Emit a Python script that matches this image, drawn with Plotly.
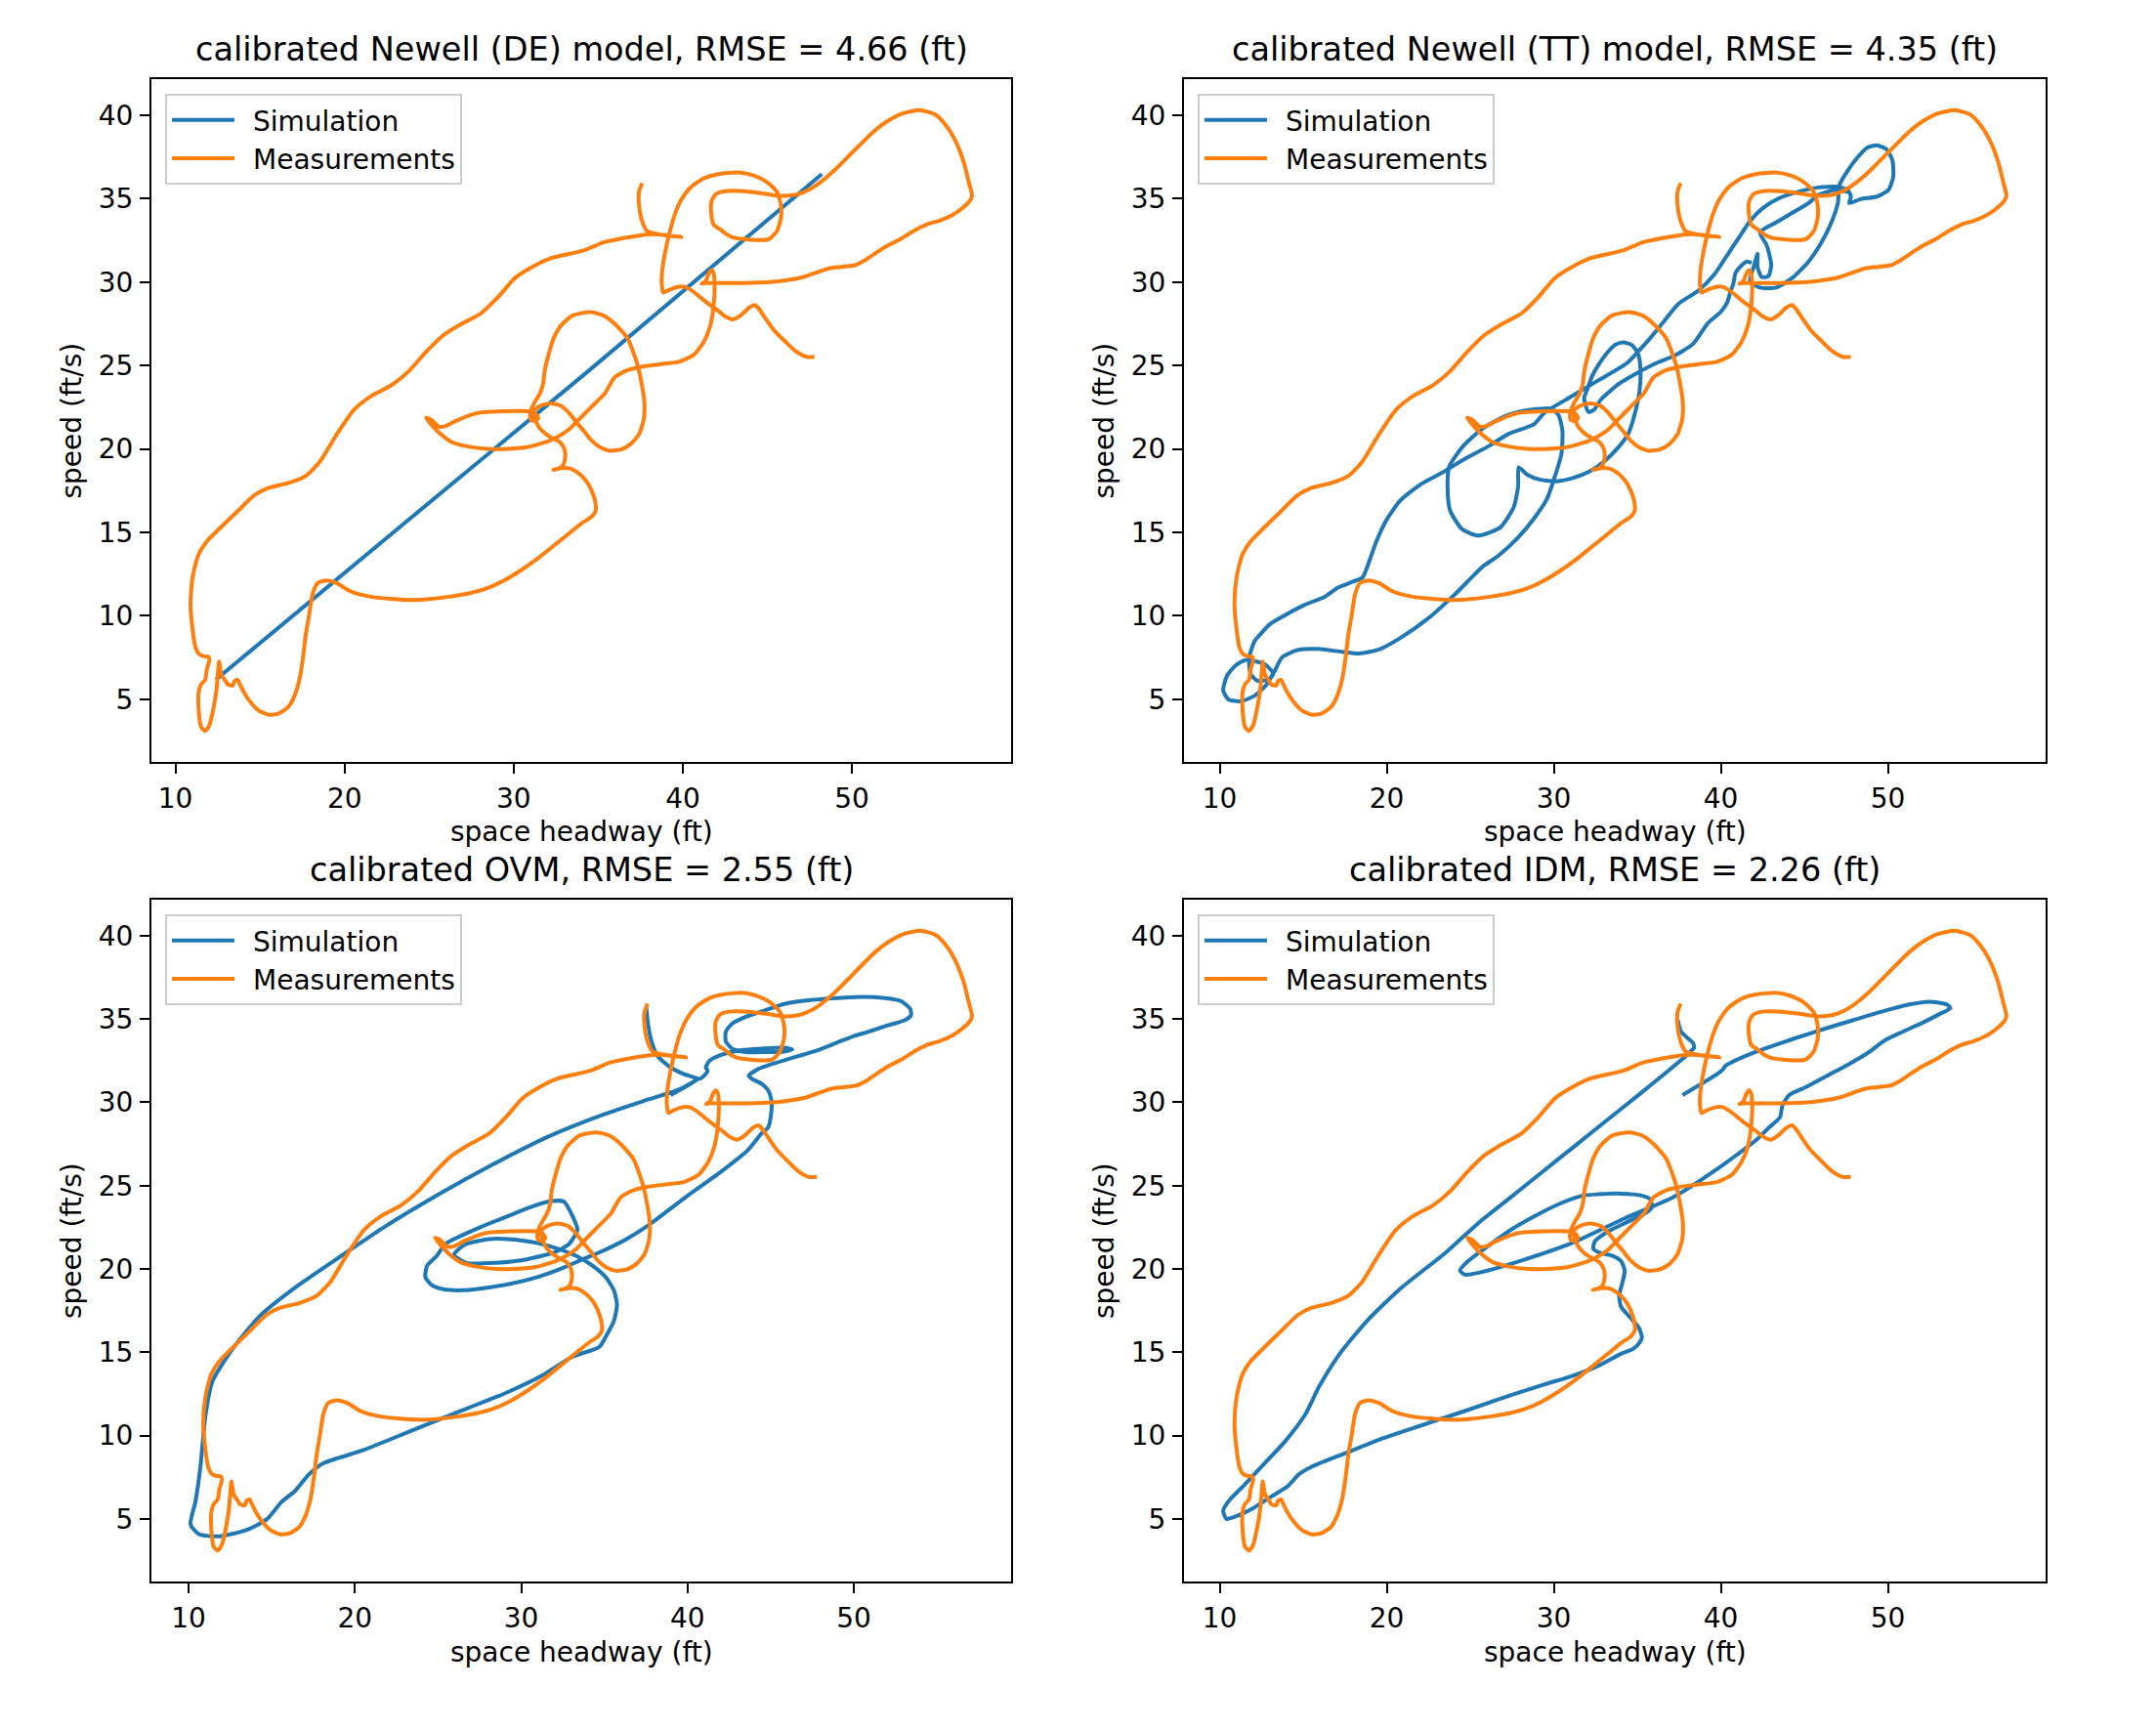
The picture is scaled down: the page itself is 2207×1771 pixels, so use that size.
import plotly.graph_objects as go

# measured trajectory (space headway ft, speed ft/s), same in every panel
meas_pts = [
    (47.78, 25.52), (47.30, 25.52), (46.63, 25.89), (45.96, 26.53), (45.38, 27.12), (44.90, 27.80),
    (44.51, 28.38), (44.26, 28.62), (43.94, 28.48), (43.46, 28.03), (42.98, 27.76), (42.50, 27.95),
    (42.02, 28.34), (41.54, 28.68), (41.06, 29.06), (40.58, 29.45), (40.10, 29.71), (39.71, 29.71),
    (39.14, 29.51), (38.85, 29.36), (38.75, 29.94), (38.81, 30.91), (38.94, 31.69), (39.10, 32.47),
    (39.27, 33.16), (39.52, 34.03), (39.90, 34.91), (40.48, 35.69), (41.25, 36.22), (42.11, 36.47),
    (43.27, 36.57), (44.23, 36.37), (44.99, 35.98), (45.57, 35.40), (45.80, 34.62), (45.80, 33.84),
    (45.57, 33.06), (45.09, 32.57), (44.42, 32.51), (43.65, 32.57), (42.98, 32.67), (42.59, 32.86),
    (42.21, 33.16), (41.82, 33.45), (41.69, 34.03), (41.69, 34.81), (41.92, 35.24), (42.50, 35.44),
    (43.65, 35.44), (44.80, 35.30), (45.76, 35.16), (46.72, 35.24), (47.49, 35.55), (48.26, 36.08),
    (49.03, 36.76), (49.80, 37.54), (50.57, 38.32), (51.33, 39.06), (52.10, 39.64), (53.00, 40.10),
    (54.00, 40.30), (54.90, 40.05), (55.56, 39.39), (56.14, 38.42), (56.62, 37.15), (56.91, 35.98),
    (57.10, 35.20), (57.00, 34.91), (56.52, 34.42), (55.95, 34.03), (55.18, 33.68), (54.41, 33.45),
    (53.64, 33.06), (52.87, 32.57), (52.10, 32.18), (51.33, 31.69), (50.76, 31.30), (50.18, 31.01),
    (49.41, 30.91), (48.65, 30.82), (47.88, 30.56), (47.11, 30.29), (46.34, 30.14), (45.19, 30.00),
    (43.65, 29.94), (42.11, 29.94), (41.34, 29.94), (41.11, 29.90), (41.34, 30.04), (41.54, 30.53),
    (41.69, 30.72), (41.82, 30.53), (41.88, 29.75), (41.82, 28.58), (41.63, 27.41), (41.25, 26.43),
    (40.67, 25.66), (39.81, 25.23), (38.65, 25.07), (37.50, 24.91), (36.73, 24.72), (35.97, 24.29),
    (35.39, 23.32), (34.62, 22.54), (33.85, 21.76), (33.28, 21.17), (32.70, 20.78), (32.12, 20.49),
    (31.55, 20.30), (30.78, 20.10), (29.63, 20.00), (28.47, 20.00), (27.32, 20.14), (26.36, 20.40),
    (25.69, 20.88), (25.21, 21.37), (24.82, 21.86), (25.11, 21.76), (25.59, 21.33), (25.98, 21.37),
    (26.55, 21.66), (27.32, 21.99), (28.09, 22.19), (29.24, 22.25), (30.20, 22.27), (30.97, 22.25),
    (31.26, 22.15), (31.45, 21.86), (31.26, 21.66), (31.01, 21.76), (30.97, 22.05), (31.07, 22.44),
    (31.26, 22.83), (31.55, 23.32), (31.74, 23.90), (31.83, 24.68), (32.05, 25.60), (32.35, 26.60),
    (32.80, 27.40), (33.50, 28.00), (34.50, 28.20), (35.30, 28.00), (35.97, 27.50), (36.73, 26.63),
    (37.31, 25.07), (37.60, 23.71), (37.73, 22.73), (37.69, 21.76), (37.41, 20.88), (36.93, 20.30),
    (36.35, 19.97), (35.68, 19.89), (35.10, 20.10), (34.62, 20.49), (34.14, 21.08), (33.66, 21.66),
    (33.28, 22.15), (32.80, 22.58), (32.22, 22.73), (31.74, 22.64), (31.35, 22.44), (31.16, 22.25),
    (31.45, 21.37), (31.84, 20.94), (32.32, 20.63), (32.74, 20.40), (32.99, 20.01), (33.05, 19.52),
    (32.93, 19.03), (32.70, 18.84), (32.35, 18.74), (32.80, 18.84), (33.28, 18.84), (33.76, 18.60),
    (34.24, 18.15), (34.58, 17.57), (34.81, 16.89), (34.85, 16.30), (34.62, 15.95), (34.04, 15.56),
    (33.28, 14.94), (32.32, 14.16), (31.35, 13.38), (30.39, 12.70), (29.43, 12.12), (28.47, 11.67),
    (27.32, 11.34), (26.17, 11.14), (25.01, 11.00), (23.86, 10.95), (21.56, 11.14), (20.34, 11.47),
    (19.53, 11.96), (18.92, 12.12), (18.40, 11.96), (18.11, 11.30), (17.90, 10.00), (17.71, 8.90),
    (17.52, 7.34), (17.33, 6.17), (17.04, 5.20), (16.66, 4.52), (16.08, 4.13), (15.52, 4.07),
    (14.93, 4.32), (14.45, 4.81), (14.06, 5.39), (13.77, 5.98), (13.68, 6.17), (13.49, 6.08),
    (13.39, 5.82), (13.10, 5.88), (12.91, 6.17), (12.72, 6.46), (12.58, 7.25), (12.53, 6.76),
    (12.43, 5.59), (12.24, 4.42), (12.01, 3.45), (11.76, 3.10), (11.51, 3.35), (11.37, 4.42),
    (11.37, 5.39), (11.51, 5.88), (11.76, 6.17), (11.85, 6.76), (12.01, 7.34), (11.95, 7.54),
    (11.66, 7.58), (11.37, 7.73), (11.18, 8.12), (11.05, 8.90), (10.89, 10.64), (11.01, 12.29),
    (11.34, 13.61), (11.83, 14.43), (12.64, 15.26), (13.65, 16.24), (14.67, 17.23), (15.48, 17.66),
    (16.69, 17.96), (17.71, 18.39), (18.52, 19.21), (19.53, 20.86), (20.55, 22.34), (21.56, 23.16),
    (22.78, 23.82), (23.79, 24.65), (24.81, 25.80), (25.82, 26.79), (26.84, 27.45), (28.05, 28.11),
    (29.07, 29.09), (30.08, 30.25), (31.10, 30.91), (32.11, 31.40), (34.14, 31.89), (35.35, 32.39),
    (36.57, 32.65), (37.50, 32.80), (38.27, 32.86), (39.23, 32.77), (39.90, 32.71), (38.85, 32.82),
    (37.89, 33.06), (37.60, 33.64), (37.41, 34.62), (37.41, 35.40), (37.60, 35.92),
]

# simulated trajectories
de_pts = [(12.39, 6.17), (23.86, 15.82), (34.43, 24.68), (48.22, 36.47)]

tt_pts = [
    (47.60, 35.41), (46.82, 35.51), (45.84, 35.22), (45.26, 34.73), (44.29, 34.15), (43.31, 33.57),
    (42.34, 32.98), (42.75, 32.20), (43.02, 31.03), (42.85, 30.35), (42.45, 30.30), (42.20, 30.90),
    (42.20, 31.70), (42.00, 31.00), (41.75, 30.06), (42.34, 29.67), (43.31, 29.67), (44.29, 30.25),
    (45.26, 31.23), (46.04, 32.40), (46.62, 33.57), (47.01, 34.73), (47.10, 35.80), (47.60, 36.68),
    (48.18, 37.46), (48.76, 38.05), (49.35, 38.20), (49.93, 37.95), (50.28, 37.27), (50.32, 36.29),
    (50.03, 35.51), (49.35, 35.12), (48.37, 34.97), (47.69, 34.73), (47.79, 35.12), (47.60, 35.51),
    (47.01, 35.71), (45.84, 35.67), (44.68, 35.42), (43.51, 35.03), (42.53, 34.44), (41.75, 33.66),
    (41.17, 32.79), (40.39, 31.62), (39.61, 30.45), (38.64, 29.47), (37.47, 28.70), (36.44, 27.45),
    (35.62, 26.46), (34.38, 25.14), (32.74, 24.15), (31.09, 23.16), (29.45, 22.17), (28.81, 21.47),
    (27.30, 20.90), (26.16, 20.20), (24.50, 19.30), (23.28, 18.55), (22.05, 17.89), (20.81, 16.90),
    (19.99, 15.75), (19.37, 14.43), (18.96, 13.28), (18.55, 12.29), (17.94, 12.03), (17.11, 11.70),
    (16.29, 11.14), (15.06, 10.64), (13.82, 9.98), (13.00, 9.49), (12.38, 8.83), (12.10, 8.50),
    (11.77, 7.51), (11.85, 6.52), (12.26, 6.10), (12.92, 6.19), (13.21, 6.52), (12.70, 7.10),
    (11.56, 7.35), (10.95, 7.02), (10.45, 6.42), (10.21, 5.54), (10.53, 4.98), (11.27, 4.88),
    (12.10, 5.21), (12.80, 5.87), (13.29, 6.69), (13.74, 7.51), (14.65, 7.94), (15.88, 8.01),
    (17.32, 7.84), (18.35, 7.74), (19.58, 8.00), (20.81, 8.67), (22.46, 9.82), (24.10, 11.30),
    (25.75, 12.95), (26.66, 13.58), (27.83, 14.65), (28.81, 15.82), (29.59, 16.99), (30.07, 18.35),
    (30.46, 19.71), (30.52, 21.08), (30.30, 22.00), (29.90, 22.40), (29.39, 22.42), (28.22, 22.29),
    (27.05, 21.95), (25.69, 21.18), (24.52, 20.10), (23.74, 18.93), (23.65, 17.50), (23.80, 16.30),
    (24.50, 15.20), (25.50, 14.80), (26.80, 15.30), (27.60, 16.50), (27.87, 17.77), (27.90, 18.90),
    (28.42, 18.45), (29.20, 18.15), (30.17, 18.06), (31.14, 18.25), (32.12, 18.64), (33.09, 19.32),
    (33.87, 20.10), (34.45, 20.88), (34.84, 22.05), (35.13, 23.42), (35.19, 24.78), (35.04, 25.75),
    (34.65, 26.24), (34.16, 26.38), (33.67, 26.24), (33.19, 25.75), (32.70, 25.07), (32.31, 24.39),
    (32.02, 23.61), (31.82, 23.03), (32.08, 22.21), (32.41, 22.34), (32.80, 22.93), (33.90, 23.90),
    (34.90, 24.50), (36.20, 25.17), (37.18, 25.56), (38.35, 26.30), (39.22, 27.53), (40.00, 28.21),
    (40.39, 28.79), (40.59, 29.47), (40.75, 29.90), (40.88, 30.54), (41.17, 30.93), (41.56, 31.23),
    (41.85, 31.15),
]

ovm_pts = [
    (37.52, 35.70), (37.62, 34.73), (37.81, 33.75), (38.20, 32.78), (38.98, 32.09), (39.76, 31.70),
    (40.35, 31.51), (40.74, 31.41), (41.00, 31.60), (41.20, 31.90), (41.10, 32.10), (41.33, 32.50),
    (42.11, 32.87), (43.28, 33.13), (44.65, 33.24), (45.82, 33.28), (46.30, 33.17), (45.82, 33.05),
    (44.65, 33.01), (43.50, 33.02), (42.70, 33.20), (42.30, 33.65), (42.30, 34.24), (42.69, 34.73),
    (43.47, 35.12), (44.65, 35.51), (45.82, 35.90), (47.38, 36.13), (48.94, 36.25), (50.50, 36.33),
    (51.87, 36.25), (52.85, 36.06), (53.39, 35.60), (53.43, 35.22), (53.04, 34.92), (52.07, 34.63),
    (50.89, 34.24), (49.92, 33.95), (48.94, 33.56), (47.96, 33.17), (46.99, 32.87), (46.01, 32.58),
    (45.04, 32.29), (44.26, 32.00), (43.67, 31.60), (43.86, 31.41), (44.45, 31.12), (44.84, 30.73),
    (45.04, 30.14), (45.04, 29.46), (44.84, 28.48), (44.43, 28.11), (43.61, 27.12), (41.96, 25.80),
    (39.90, 24.32), (37.62, 22.60), (36.25, 21.75), (34.88, 21.07), (33.71, 20.58), (32.34, 19.99),
    (30.98, 19.51), (29.41, 19.12), (27.85, 18.86), (26.49, 18.72), (25.31, 18.78), (24.63, 19.02),
    (24.24, 19.51), (24.34, 20.19), (24.92, 20.78), (25.46, 21.51), (27.53, 22.50), (29.18, 23.16),
    (30.41, 23.66), (31.65, 24.05), (32.56, 24.05), (33.09, 23.16), (33.38, 22.34), (32.89, 21.51),
    (32.06, 21.02), (30.41, 20.59), (28.35, 20.36), (26.70, 20.36), (25.96, 20.85), (26.60, 21.45),
    (28.05, 21.79), (29.22, 21.79), (30.39, 21.65), (31.37, 21.46), (32.34, 21.17), (33.32, 20.78),
    (34.30, 20.19), (35.08, 19.51), (35.57, 18.72), (35.76, 17.85), (35.57, 16.87), (35.17, 16.09),
    (34.69, 15.31), (33.09, 14.74), (31.24, 13.59), (29.18, 12.60), (26.70, 11.61), (23.40, 10.29),
    (20.52, 9.13), (18.04, 8.31), (17.22, 7.65), (16.39, 6.66), (15.57, 6.00), (14.74, 5.00),
    (13.51, 4.34), (11.86, 3.95), (10.62, 4.08), (10.12, 4.67), (10.41, 6.00), (10.70, 7.98),
    (11.03, 11.28), (11.44, 13.26), (12.68, 15.24), (14.33, 17.22), (16.39, 18.87), (19.28, 20.85),
    (21.75, 22.50), (25.05, 24.48), (28.35, 26.30), (31.65, 27.95), (34.95, 29.27), (37.42, 30.10),
    (39.48, 30.76), (40.64, 31.40), (39.90, 30.95), (38.98, 30.43),
]

idm_pts = [
    (37.42, 34.95), (37.62, 34.24), (38.01, 33.85), (38.34, 33.56), (38.40, 33.27), (38.20, 33.07),
    (37.91, 32.78), (36.74, 31.80), (35.19, 30.53), (33.24, 28.97), (31.30, 27.41), (29.35, 25.85),
    (27.41, 24.29), (25.46, 22.73), (23.52, 20.97), (20.88, 18.87), (18.83, 16.89), (17.19, 14.91),
    (15.95, 12.93), (15.13, 11.28), (13.90, 9.63), (12.67, 8.31), (11.44, 6.99), (10.62, 6.16),
    (10.21, 5.50), (10.41, 5.00), (11.03, 5.17), (12.05, 5.67), (13.08, 6.33), (14.11, 6.99),
    (14.72, 7.65), (15.54, 8.14), (17.60, 8.97), (19.65, 9.79), (22.11, 10.62), (24.58, 11.44),
    (27.45, 12.43), (29.51, 13.09), (31.15, 13.59), (32.79, 14.25), (34.02, 14.91), (34.75, 15.20),
    (35.15, 15.60), (35.28, 15.90), (35.09, 16.48), (34.51, 17.16), (34.02, 17.75), (33.92, 18.43),
    (34.12, 19.21), (34.25, 19.90), (34.02, 20.48), (33.44, 20.81), (32.76, 20.97), (32.37, 21.20),
    (32.46, 21.65), (33.24, 22.24), (34.41, 22.82), (35.58, 23.41), (35.87, 23.70), (35.77, 24.19),
    (35.19, 24.42), (34.02, 24.52), (32.66, 24.48), (31.69, 24.39), (30.32, 23.90), (28.96, 23.22),
    (27.41, 22.33), (26.05, 21.36), (24.88, 20.48), (24.39, 19.90), (24.68, 19.66), (25.46, 19.76),
    (27.99, 20.48), (31.10, 21.56), (34.21, 23.02), (37.13, 24.29), (39.85, 26.04), (42.19, 27.80),
    (42.85, 28.45), (43.55, 29.11), (43.68, 29.77), (44.09, 30.43), (45.11, 30.92), (46.34, 31.58),
    (47.58, 32.24), (48.81, 32.97), (49.84, 33.73), (50.86, 34.22), (52.09, 34.78), (53.12, 35.31),
    (53.74, 35.64), (53.53, 35.87), (52.50, 36.04), (51.27, 35.87), (49.63, 35.44), (47.99, 34.95),
    (46.34, 34.45), (44.29, 33.79), (42.65, 33.23), (42.19, 33.07), (41.02, 32.58), (40.28, 32.19),
    (40.15, 32.00), (39.66, 31.61), (38.69, 31.02), (37.71, 30.44),
]

titles = [
    "calibrated Newell (DE) model, RMSE = 4.66 (ft)",
    "calibrated Newell (TT) model, RMSE = 4.35 (ft)",
    "calibrated OVM, RMSE = 2.55 (ft)",
    "calibrated IDM, RMSE = 2.26 (ft)",
]
x_ticks = [10, 20, 30, 40, 50]
y_ticks = [5, 10, 15, 20, 25, 30, 35, 40]

W, H = 2207, 1771
OFF = 8  # the html body margin
FW, FH = W - 2 * OFF, H - 2 * OFF
FONT = "DejaVu Sans"
BLUE = "#1f77b4"
ORANGE = "#ff7f0e"

# axes boxes in page pixels
cols_px = [(155, 1035), (1212, 2094)]
rows_px = [(81, 780), (921, 1619)]


def px_x(v):
    return (v - OFF) / FW


def px_y(v):
    return 1 - (v - OFF) / FH


def pad(vals):
    lo, hi = min(vals), max(vals)
    d = (hi - lo) * 0.05
    return [lo - d, hi + d]


fig = go.Figure()
annos = []
sims = [de_pts, tt_pts, ovm_pts, idm_pts]
mx = [p[0] for p in meas_pts]
my = [p[1] for p in meas_pts]

for i, sim in enumerate(sims):
    r, c = divmod(i, 2)
    n = "" if i == 0 else str(i + 1)
    xa, ya, leg = "x" + n, "y" + n, "legend" + n
    sx = [p[0] for p in sim]
    sy = [p[1] for p in sim]
    xdom = [px_x(cols_px[c][0]), px_x(cols_px[c][1])]
    ydom = [px_y(rows_px[r][1]), px_y(rows_px[r][0])]
    fig.add_trace(go.Scatter(x=sx, y=sy, mode="lines", name="\u2002Simulation",
                             line=dict(color=BLUE, width=4, shape="spline", smoothing=0.6),
                             xaxis=xa, yaxis=ya, legend=leg))
    fig.add_trace(go.Scatter(x=mx, y=my, mode="lines", name="\u2002Measurements",
                             line=dict(color=ORANGE, width=4, shape="spline", smoothing=0.6),
                             xaxis=xa, yaxis=ya, legend=leg))
    ax = dict(showline=True, mirror=True, linecolor="black", linewidth=2.2,
              ticks="outside", ticklen=10, tickwidth=2.2, tickcolor="black",
              showgrid=False, zeroline=False, ticklabelstandoff=1,
              tickfont=dict(family=FONT, size=28, color="black"))
    fig.update_layout({
        "xaxis" + n: dict(ax, domain=xdom, anchor=ya, range=pad(sx + mx), tickvals=x_ticks),
        "yaxis" + n: dict(ax, domain=ydom, anchor=xa, range=pad(sy + my), tickvals=y_ticks),
        leg: dict(x=px_x(cols_px[c][0] + 14), y=px_y(rows_px[r][0] + 15),
                  xanchor="left", yanchor="top",
                  bgcolor="rgba(255,255,255,0.8)", bordercolor="#cccccc", borderwidth=2,
                  font=dict(family=FONT, size=28, color="black"), itemwidth=64),
    })
    xm = (xdom[0] + xdom[1]) / 2
    annos.append(dict(text=titles[i], x=xm, y=ydom[1], xref="paper", yref="paper",
                      xanchor="center", yanchor="bottom", yshift=9, showarrow=False,
                      font=dict(family=FONT, size=33.5, color="black")))
    annos.append(dict(text="space headway (ft)", x=xm, y=ydom[0], xref="paper", yref="paper",
                      xanchor="center", yanchor="middle", yshift=-72, showarrow=False,
                      font=dict(family=FONT, size=28, color="black")))
    annos.append(dict(text="speed (ft/s)", x=xdom[0], y=(ydom[0] + ydom[1]) / 2,
                      xref="paper", yref="paper", xanchor="center", yanchor="middle",
                      xshift=-82, textangle=-90, showarrow=False,
                      font=dict(family=FONT, size=28, color="black")))

fig.update_layout(width=FW, height=FH, margin=dict(l=0, r=0, t=0, b=0),
                  paper_bgcolor="white", plot_bgcolor="white",
                  font=dict(family=FONT, color="black"), annotations=annos)
fig.write_html("out.html")
